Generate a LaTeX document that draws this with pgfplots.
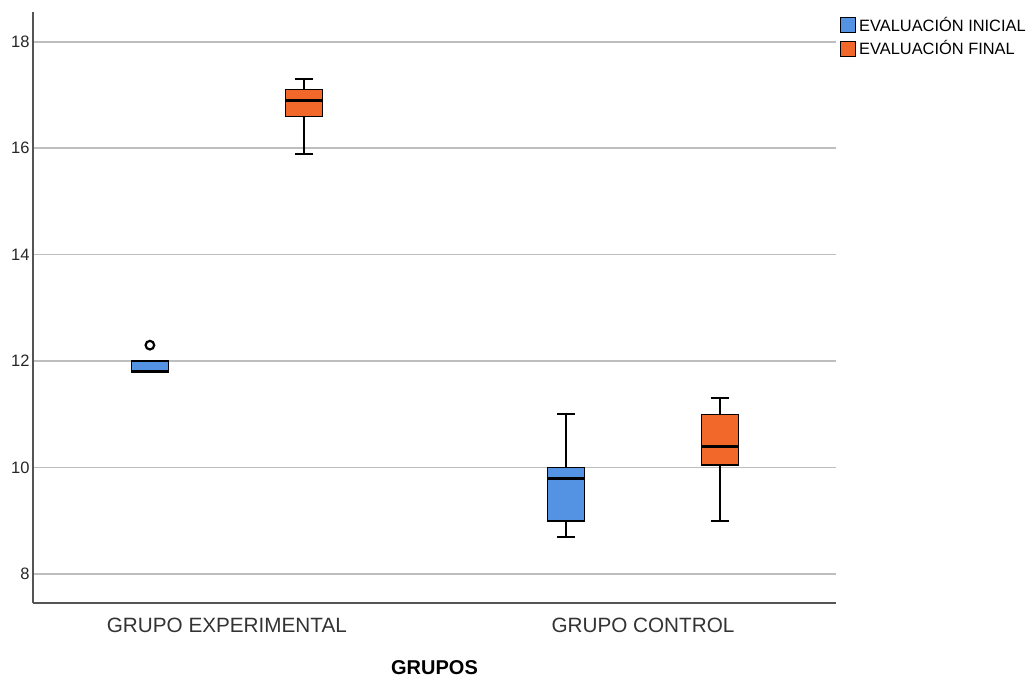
\documentclass[border=0pt]{standalone}
\usepackage{pgfplots}
\pgfplotsset{compat=1.18}
\usepgfplotslibrary{statistics}
\usepackage{fontspec}
\setmainfont{Liberation Sans}
\definecolor{spssblue}{RGB}{84,147,228}
\definecolor{spssorange}{RGB}{242,104,42}
\definecolor{gridgray}{RGB}{190,190,190}
\definecolor{axgray}{RGB}{85,85,85}
\begin{document}
\begin{tikzpicture}
\begin{axis}[
  scale only axis, width=803pt, height=591pt,
  xmin=0.534, xmax=2.464, ymin=7.455, ymax=18.56,
  axis x line*=bottom, axis y line*=left,
  axis line style={axgray, line width=1.3pt, -},
  xtick={1,2}, xticklabels={GRUPO EXPERIMENTAL, GRUPO CONTROL},
  ytick={8,10,...,18},
  major tick length=0pt,
  ymajorgrids, grid style={gridgray, line width=1.5pt},
  xticklabel style={font=\fontsize{20.7}{24}\selectfont, text=black!80, yshift=-12pt},
  yticklabel style={font=\fontsize{16.5}{19}\selectfont, text=black!85},
  /pgf/number format/assume math mode=true,
  xlabel={GRUPOS},
  xlabel style={font=\bfseries\fontsize{20}{24}\selectfont, at={(axis description cs:0.5,-0.11)}, anchor=center},
  legend style={at={(axis description cs:1.005,0.997)}, anchor=north west, draw=none, fill=none,
    font=\fontsize{16.4}{19}\selectfont, inner sep=0pt, row sep=2pt, nodes={inner sep=3pt}},
  legend cell align=left,
  boxplot/draw direction=y,
]
\addlegendimage{legend image code/.code={\draw[fill=spssblue,draw=black,line width=1pt] (0pt,-7.5pt) rectangle (15pt,7.5pt);}}
\addlegendentry{EVALUACIÓN INICIAL}
\addlegendimage{legend image code/.code={\draw[fill=spssorange,draw=black,line width=1pt] (0pt,-7.5pt) rectangle (15pt,7.5pt);}}
\addlegendentry{EVALUACIÓN FINAL}

% Grupo experimental - inicial
\addplot[forget plot, draw=black, fill=spssblue, line width=1.5pt,
  boxplot prepared={draw position=0.815, lower whisker=11.8, lower quartile=11.8,
    median=11.8, upper quartile=12.0, upper whisker=12.0,
    box extend=0.089, whisker extend=0.043},
  boxplot/every whisker/.style={line width=2pt},
  boxplot/every median/.style={line width=3pt},
  mark=*, mark size=4.3pt, mark options={draw=black, fill=white, line width=2.2pt}]
  coordinates {(0,12.3)};
% Grupo experimental - final
\addplot[forget plot, draw=black, fill=spssorange, line width=1.5pt,
  boxplot prepared={draw position=1.185, lower whisker=15.9, lower quartile=16.6,
    median=16.9, upper quartile=17.1, upper whisker=17.3,
    box extend=0.089, whisker extend=0.043},
  boxplot/every whisker/.style={line width=2pt},
  boxplot/every median/.style={line width=3pt}]
  coordinates {};
% Grupo control - inicial
\addplot[forget plot, draw=black, fill=spssblue, line width=1.5pt,
  boxplot prepared={draw position=1.815, lower whisker=8.7, lower quartile=9.0,
    median=9.8, upper quartile=10.0, upper whisker=11.0,
    box extend=0.089, whisker extend=0.043},
  boxplot/every whisker/.style={line width=2pt},
  boxplot/every median/.style={line width=3pt}]
  coordinates {};
% Grupo control - final
\addplot[forget plot, draw=black, fill=spssorange, line width=1.5pt,
  boxplot prepared={draw position=2.185, lower whisker=9.0, lower quartile=10.05,
    median=10.4, upper quartile=11.0, upper whisker=11.3,
    box extend=0.089, whisker extend=0.043},
  boxplot/every whisker/.style={line width=2pt},
  boxplot/every median/.style={line width=3pt}]
  coordinates {};
\end{axis}
\pgfresetboundingbox
\path (current axis.south west) ++(-33pt,-78pt) rectangle ++(1035pt,681pt);
\end{tikzpicture}
\end{document}
